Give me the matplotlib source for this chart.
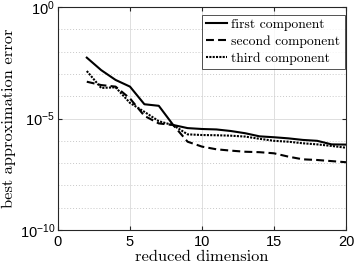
import numpy as np
import matplotlib
matplotlib.use("Agg")
import matplotlib.pyplot as plt
from matplotlib.ticker import FixedLocator, NullFormatter

plt.rcParams["mathtext.fontset"] = "custom"
plt.rcParams["mathtext.rm"] = "Liberation Sans"
plt.rcParams["mathtext.it"] = "Liberation Sans:italic"
plt.rcParams["mathtext.bf"] = "Liberation Sans:bold"

dims = list(range(2, 21))
# log10 of best approximation error
first_exp = [-2.27, -2.83, -3.27, -3.57, -4.36, -4.43, -5.29, -5.43, -5.47, -5.49,
             -5.56, -5.66, -5.80, -5.84, -5.89, -5.96, -6.00, -6.16, -6.17]
second_exp = [-3.35, -3.50, -3.57, -4.10, -4.88, -5.22, -5.29, -6.04, -6.26, -6.38,
              -6.44, -6.49, -6.51, -6.56, -6.71, -6.83, -6.86, -6.91, -6.96]
third_exp = [-2.87, -3.63, -3.60, -4.30, -4.70, -5.12, -5.30, -5.71, -5.74, -5.75,
             -5.77, -5.81, -5.91, -6.00, -6.04, -6.11, -6.16, -6.23, -6.31]
labels = ["first component", "second component", "third component"]

first = 10.0 ** np.array(first_exp)
second = 10.0 ** np.array(second_exp)
third = 10.0 ** np.array(third_exp)

fig = plt.figure(figsize=(3.54, 2.70), dpi=100)
ax = fig.add_axes([0.1638, 0.1481, 0.8136, 0.8259])

ax.semilogy(dims, first, color="black", lw=1.5, ls="-", label=labels[0])
ax.semilogy(dims, second, color="black", lw=1.5, ls=(0, (3.8, 2.0)), label=labels[1])
ax.semilogy(dims, third, color="black", lw=1.5, ls=(0, (1, 0.6)), label=labels[2])

ax.set_xlim(0, 20)
ax.set_ylim(1e-10, 1)
ax.set_xticks([0, 5, 10, 15, 20])
ax.yaxis.set_major_locator(FixedLocator([1e-10, 1e-5, 1e0]))
ax.yaxis.set_minor_locator(FixedLocator([10.0 ** k for k in range(-9, 0) if k != -5]))
ax.yaxis.set_minor_formatter(NullFormatter())
ax.set_yticklabels([r"$\mathregular{10^{-10}}$", r"$\mathregular{10^{-5}}$", r"$\mathregular{10^{0}}$"])

ax.grid(True, which="major", color="#dedede", lw=0.7, ls="-")
ax.grid(True, which="minor", axis="y", color="#c8c8c8", lw=0.7, ls=(0, (1, 2)))

for s in ax.spines.values():
    s.set_color("#262626")
    s.set_linewidth(0.8)
ax.tick_params(which="both", direction="in", top=True, right=True, colors="#262626",
               labelsize=10.5, length=3)
ax.tick_params(which="minor", length=0)
ax.tick_params(axis="y", pad=2)
for lab in ax.get_xticklabels() + ax.get_yticklabels():
    lab.set_fontfamily("Liberation Sans")
    lab.set_color("black")

ax.set_xlabel("reduced dimension", fontfamily="cmr10", fontsize=11.8, labelpad=1)
ax.set_ylabel("best approximation error", fontfamily="cmr10", fontsize=11.8, labelpad=3)

leg = ax.legend(loc="upper right", bbox_to_anchor=(0.995, 0.966),
                prop={"family": "cmr10", "size": 9.8},
                frameon=True, fancybox=False, edgecolor="#262626",
                handlelength=1.6, handletextpad=0.3, borderpad=0.3,
                labelspacing=0.3, borderaxespad=0.0)
leg.get_frame().set_linewidth(0.7)

fig.savefig("out.png", dpi=100)
